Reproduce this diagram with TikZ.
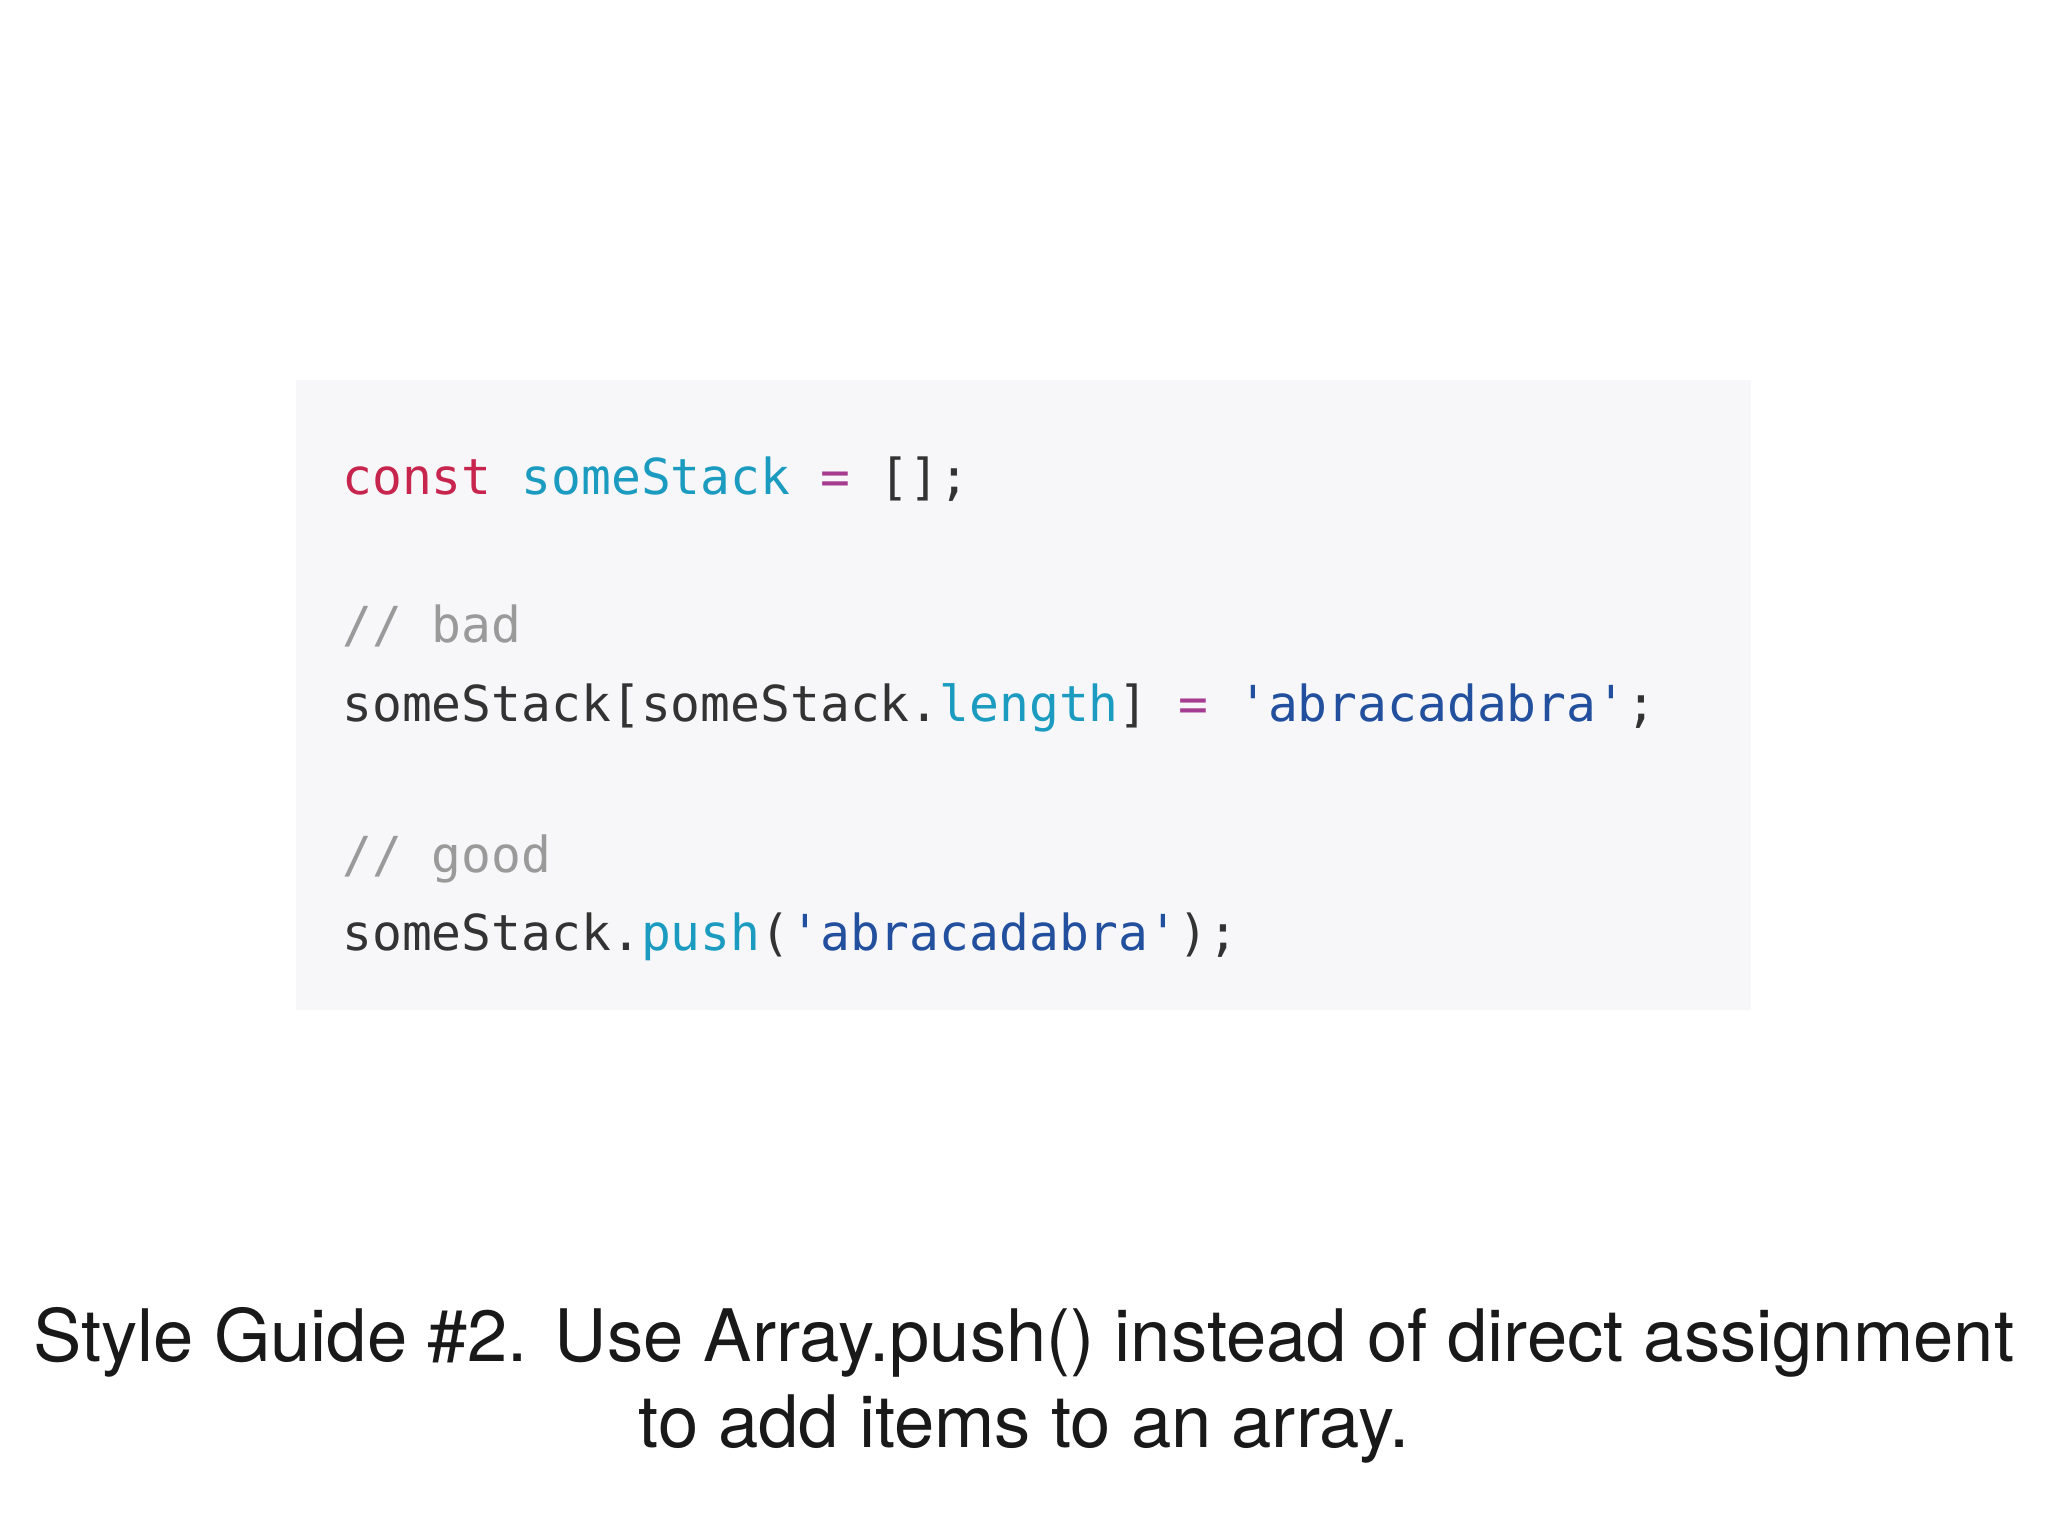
\documentclass[tikz,border=0pt]{standalone}
\usepackage{fontspec}
\setmainfont{TeX Gyre Heros}
\setmonofont{DejaVu Sans Mono}
\definecolor{kw}{HTML}{C7254E}
\definecolor{var}{HTML}{1A9BBF}
\definecolor{str}{HTML}{23509E}
\definecolor{cmt}{HTML}{9A9A9A}
\definecolor{txt}{HTML}{333333}
\definecolor{opc}{HTML}{A63C8F}
\definecolor{bg}{HTML}{F7F7F9}
\begin{document}
\begin{tikzpicture}[x=0.5pt,y=-0.5pt,
  code/.style={anchor=base west,inner sep=0pt,font=\ttfamily\fontsize{24.8pt}{28pt}\selectfont,text=txt},
  captext/.style={anchor=base,inner sep=0pt,font=\fontsize{36.2pt}{42pt}\selectfont,text=black!90}]
\useasboundingbox[fill=white] (0,0) rectangle (2048,1536);
\fill[bg] (296,380) rectangle (1751,1010);
\node[code] (l1) at (342,494) {\textcolor{kw}{const} \textcolor{var}{someStack} \textcolor{opc}{=} [];};
\node[code] (l2) at (342,642) {\textcolor{cmt}{// bad}};
\node[code] (l3) at (342,721) {someStack[someStack.\textcolor{var}{length}] \textcolor{opc}{=} \textcolor{str}{'abracadabra'};};
\node[code] (l4) at (342,872) {\textcolor{cmt}{// good}};
\node[code] (l5) at (342,950) {someStack.\textcolor{var}{push}(\textcolor{str}{'abracadabra'});};
\node[captext] (c1) at (1024,1361) {Style Guide \#2. Use Array.push() instead of direct assignment};
\node[captext] (c2) at (1024,1447) {to add items to an array.};
\end{tikzpicture}
\end{document}
